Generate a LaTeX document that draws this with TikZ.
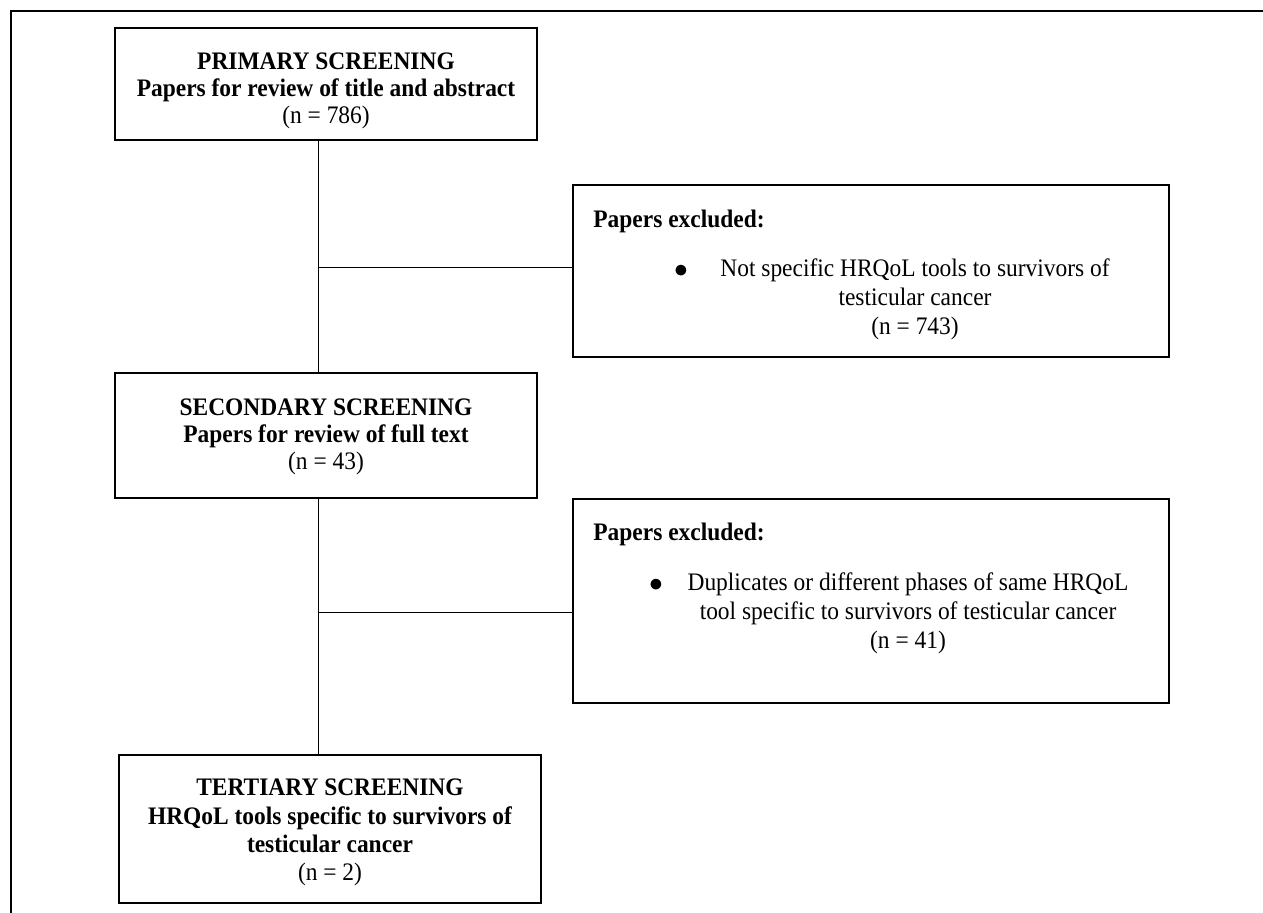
\documentclass[tikz,border=0pt]{standalone}
\usepackage{fontspec}
\setmainfont{Liberation Serif}[FakeStretch=0.93]
\begin{document}
\begin{tikzpicture}[x=0.5pt,y=-0.5pt,
  box/.style={draw, line width=0.7pt, rectangle, inner sep=0pt},
  txt/.style={font=\fontsize{12.6}{13.6}\selectfont, align=center, inner sep=0pt, text height=0.7em, text depth=0.22em, yshift=-1.5pt},
  btxt/.style={txt, font=\fontsize{12.6}{13.6}\selectfont\bfseries},
  conn/.style={line width=0.5pt}]
\useasboundingbox (0,0) rectangle (1263,913);
% partial frame
\draw[line width=0.7pt] (11,913) -- (11,11) -- (1263,11);
% boxes
\node[box, minimum width=211pt, minimum height=56pt] (prim) at (326,84) {};
\node[box, minimum width=211pt, minimum height=62.5pt] (sec) at (326,435.5) {};
\node[box, minimum width=211pt, minimum height=74pt] (ter) at (330,829) {};
\node[box, minimum width=298pt, minimum height=86pt] (ex1) at (871,271) {};
\node[box, minimum width=298pt, minimum height=102pt] (ex2) at (871,601) {};
% texts
\node[btxt] (pt1) at (326,62) {PRIMARY SCREENING};
\node[btxt] (pt2) at (326,89) {Papers for review of title and abstract};
\node[txt] (pt3) at (326,116) {(n = 786)};
\node[btxt] (st1) at (326,408) {SECONDARY SCREENING};
\node[btxt] (st2) at (326,435) {Papers for review of full text};
\node[txt] (st3) at (326,462) {(n = 43)};
\node[btxt] (tt1) at (330,788) {TERTIARY SCREENING};
\node[btxt] (tt2) at (330,817) {HRQoL tools specific to survivors of};
\node[btxt] (tt3) at (330,845) {testicular cancer};
\node[txt] (tt4) at (330,873) {(n = 2)};
\node[btxt, anchor=west] (e1h) at (593,220) {Papers excluded:};
\node[txt, scale=1.15] (e1b) at (681,269) {$\bullet$};
\node[txt] (e1l1) at (915,269) {Not specific HRQoL tools to survivors of};
\node[txt] (e1l2) at (915,298) {testicular cancer};
\node[txt] (e1l3) at (915,327) {(n = 743)};
\node[btxt, anchor=west] (e2h) at (593,533) {Papers excluded:};
\node[txt, scale=1.15] (e2b) at (656,583) {$\bullet$};
\node[txt] (e2l1) at (908,583) {Duplicates or different phases of same HRQoL};
\node[txt] (e2l2) at (908,612) {tool specific to survivors of testicular cancer};
\node[txt] (e2l3) at (908,641) {(n = 41)};
% connectors
\coordinate (j1) at (318,268);
\coordinate (j2) at (318,613);
\draw[conn] (prim.south -| j1) -- (sec.north -| j1);
\draw[conn] (sec.south -| j2) -- (ter.north -| j2);
\draw[conn] (j1) -- (ex1.west |- j1);
\draw[conn] (j2) -- (ex2.west |- j2);
\end{tikzpicture}
\end{document}
